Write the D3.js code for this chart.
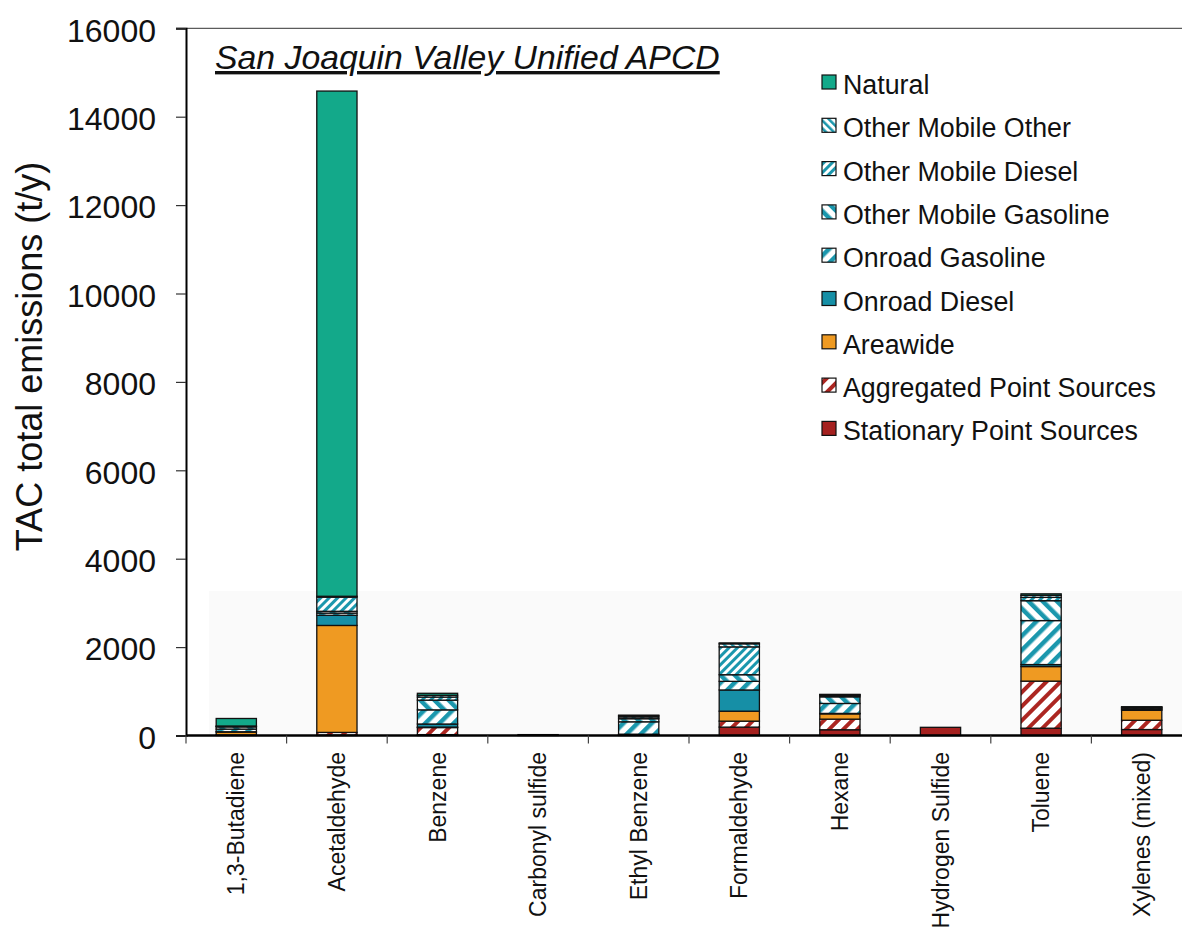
<!DOCTYPE html>
<html>
<head>
<meta charset="utf-8">
<script src="https://cdnjs.cloudflare.com/ajax/libs/d3/7.8.5/d3.min.js"></script>
<style>
  html, body { margin: 0; padding: 0; background: #fff; }
  svg { display: block; font-family: "Liberation Sans", Arial, sans-serif; }
</style>
</head>
<body>
<svg id="chart" width="1182" height="933"></svg>
<script>
const categories = ["1,3-Butadiene", "Acetaldehyde", "Benzene", "Carbonyl sulfide", "Ethyl Benzene",
  "Formaldehyde", "Hexane", "Hydrogen Sulfide", "Toluene", "Xylenes (mixed)"];

// stacking order bottom -> top
const seriesNames = ["Stationary Point Sources", "Aggregated Point Sources", "Areawide", "Onroad Diesel",
  "Onroad Gasoline", "Other Mobile Gasoline", "Other Mobile Diesel", "Other Mobile Other", "Natural"];

const stationaryPoint   = [5, 10, 20, 20, 5, 190, 130, 185, 165, 135];
const aggregatedPoint   = [5, 60, 160, 0, 10, 135, 240, 0, 1065, 210];
const areawide          = [70, 2420, 10, 0, 5, 225, 120, 0, 330, 225];
const onroadDiesel      = [5, 230, 70, 0, 10, 480, 10, 0, 45, 15];
const onroadGasoline    = [60, 50, 320, 0, 280, 195, 225, 0, 995, 20];
const otherMobileGas    = [50, 40, 220, 0, 70, 150, 150, 0, 450, 15];
const otherMobileDiesel = [10, 320, 70, 0, 40, 630, 30, 0, 75, 15];
const otherMobileOther  = [10, 20, 40, 0, 30, 70, 20, 0, 45, 10];
const natural           = [170, 11430, 45, 0, 10, 20, 5, 0, 35, 5];

const yTicks = [0, 2000, 4000, 6000, 8000, 10000, 12000, 14000, 16000];

const seriesValues = [stationaryPoint, aggregatedPoint, areawide, onroadDiesel, onroadGasoline,
  otherMobileGas, otherMobileDiesel, otherMobileOther, natural];

const table = categories.map((c, i) => {
  const row = { category: c };
  seriesNames.forEach((s, j) => row[s] = seriesValues[j][i]);
  return row;
});

const svg = d3.select("#chart");
const plotLeft = 186, plotRight = 1192, plotTop = 28.3, plotBottom = 735.5;

const x = d3.scaleBand().domain(categories).range([plotLeft, plotRight]).paddingInner(0.6).paddingOuter(0.3);
const y = d3.scaleLinear().domain([0, 16000]).range([plotBottom, plotTop]);

// patterns
const defs = svg.append("defs");
const TEAL = "#1b97ad", RED = "#ac2621";
function hatch(id, color, size, stroke, dir) {
  const p = defs.append("pattern").attr("id", id).attr("patternUnits", "userSpaceOnUse")
    .attr("width", size).attr("height", size)
    .attr("patternTransform", `rotate(${dir > 0 ? 45 : -45})`);
  p.append("rect").attr("width", size).attr("height", size).attr("fill", "#fff");
  p.append("rect").attr("x", 0).attr("y", 0).attr("width", stroke).attr("height", size).attr("fill", color);
}
hatch("pAgg", RED, 10, 4, 1);
hatch("pOnGas", TEAL, 10, 4.5, 1);
hatch("pOMGas", TEAL, 10, 4.5, -1);
hatch("pOMDiesel", TEAL, 6, 3, 1);
hatch("pOMOther", TEAL, 5.5, 2.5, -1);

const fills = {
  "Stationary Point Sources": "#a5211f",
  "Aggregated Point Sources": "url(#pAgg)",
  "Areawide": "#ef9a22",
  "Onroad Diesel": "#168fa6",
  "Onroad Gasoline": "url(#pOnGas)",
  "Other Mobile Gasoline": "url(#pOMGas)",
  "Other Mobile Diesel": "url(#pOMDiesel)",
  "Other Mobile Other": "url(#pOMOther)",
  "Natural": "#13a98a"
};

// faint background artifact
svg.append("rect").attr("x", 209).attr("y", 591).attr("width", 1182 - 209).attr("height", plotBottom - 591)
  .attr("fill", "#fafafa");

// top frame line
svg.append("line").attr("x1", 176).attr("x2", 1182).attr("y1", y(16000)).attr("y2", y(16000))
  .attr("stroke", "#333").attr("stroke-width", 1);

// bars
const stack = d3.stack().keys(seriesNames)(table);
const g = svg.append("g");
stack.forEach(layer => {
  g.append("g").selectAll("rect").data(layer.filter(d => d[1] - d[0] > 0)).join("rect")
    .attr("x", d => x(d.data.category))
    .attr("width", x.bandwidth())
    .attr("y", d => y(d[1]))
    .attr("height", d => y(d[0]) - y(d[1]))
    .attr("fill", fills[layer.key])
    .attr("stroke", "#111")
    .attr("stroke-width", 1.3);
});

// y axis
const yAxis = svg.append("g").attr("transform", `translate(${plotLeft},0)`)
  .call(d3.axisLeft(y).tickValues(yTicks).tickSize(10).tickPadding(20).tickFormat(d3.format("d")));
yAxis.select(".domain").attr("stroke", "#000").attr("stroke-width", 2);
yAxis.selectAll(".tick line").attr("stroke", "#333").attr("stroke-width", 1.2);
yAxis.selectAll(".tick text").attr("font-size", 32).attr("fill", "#111")
  .attr("font-family", "'Liberation Sans', Arial, sans-serif").attr("dy", "0.4em");

// x axis
svg.append("line").attr("x1", plotLeft).attr("x2", 1182).attr("y1", plotBottom).attr("y2", plotBottom)
  .attr("stroke", "#000").attr("stroke-width", 2.5);
const gap = (x.step() - x.bandwidth()) / 2;
const boundaries = categories.map(c => x(c) - gap).concat([x(categories[categories.length - 1]) + x.bandwidth() + gap]);
svg.append("g").selectAll("line").data(boundaries).join("line")
  .attr("x1", d => d).attr("x2", d => d).attr("y1", plotBottom).attr("y2", plotBottom + 8)
  .attr("stroke", "#444").attr("stroke-width", 1.2);
svg.append("g").selectAll("text").data(categories).join("text")
  .attr("transform", d => `translate(${x(d) + x.bandwidth() / 2},752) rotate(-90)`)
  .attr("text-anchor", "end").attr("dy", "0.35em")
  .attr("font-size", 23).attr("fill", "#111").text(d => d);

// y title
svg.append("text").attr("transform", "translate(42,356.5) rotate(-90)")
  .attr("text-anchor", "middle").attr("font-size", 36).attr("fill", "#111")
  .text("TAC total emissions (t/y)");

// chart title
svg.append("text").attr("x", 215).attr("y", 69).attr("font-size", 33.8).attr("font-style", "italic")
  .attr("text-decoration", "underline").attr("fill", "#111").text("San Joaquin Valley Unified APCD");

// legend
const legendOrder = seriesNames.slice().reverse();
const lg = svg.append("g");
legendOrder.forEach((s, i) => {
  const yy = 94 + i * 43.3;
  lg.append("rect").attr("x", 822).attr("y", yy - 19).attr("width", 14).attr("height", 14)
    .attr("fill", fills[s]).attr("stroke", "#111").attr("stroke-width", 1.2);
  lg.append("text").attr("x", 843).attr("y", yy).attr("font-size", 26.8).attr("fill", "#111").text(s);
});
</script>
</body>
</html>
